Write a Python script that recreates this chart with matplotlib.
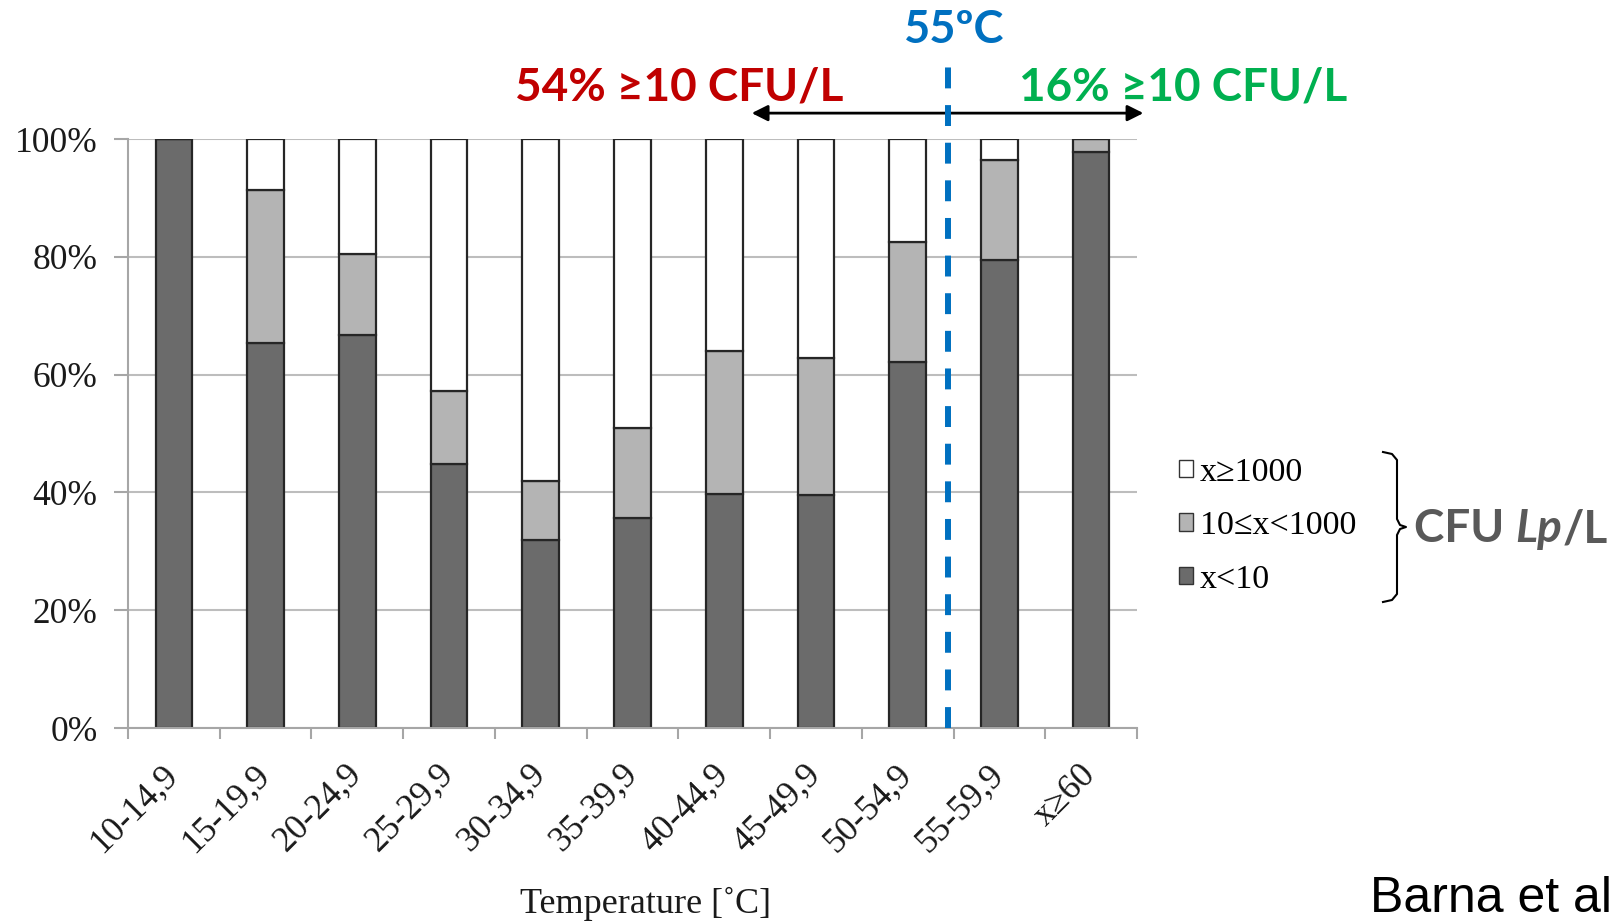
"""
Legionella (Lp) Anteil nach Wassertemperatur - gestapeltes Balkendiagramm
"""

import matplotlib
matplotlib.use("Agg")
import matplotlib.pyplot as plt
from matplotlib.patches import Patch
import numpy as np

# Daten (Prozent je Temperaturklasse)
categories = ['10-14,9', '15-19,9', '20-24,9', '25-29,9', '30-34,9', '35-39,9',
              '40-44,9', '45-49,9', '50-54,9', '55-59,9', 'x≥60']
low_share = [100, 65.3, 66.7, 44.8, 32.0, 35.7, 39.8, 39.5, 62.2, 79.5, 97.8]      # x<10
mid_share = [0, 26.0, 13.7, 12.5, 10.0, 15.2, 24.2, 23.4, 20.3, 16.9, 2.2]        # 10<=x<1000
high_share = [0, 8.7, 19.6, 42.7, 58.0, 49.1, 36.0, 37.1, 17.5, 3.6, 0]           # x>=1000
legend_labels = ['x≥1000', '10≤x<1000', 'x<10']

DARK = '#6b6b6b'
MID = '#b4b4b4'
EDGE = '#262626'
SERIF = 'Liberation Serif'
BOLD = ['Lato', 'DejaVu Sans']

fig = plt.figure(figsize=(16.18, 9.22), dpi=100)
ax = fig.add_axes([0.0791, 0.2104, 0.6236, 0.6388])

x = np.arange(len(categories))
low = np.array(low_share)
mid = np.array(mid_share)
high = np.array(high_share)

ax.bar(x, low, width=0.40, color=DARK, edgecolor=EDGE, linewidth=1.6, zorder=2)
ax.bar(x, mid, bottom=low, width=0.40, color=MID, edgecolor=EDGE, linewidth=1.6, zorder=2)
ax.bar(x, high, bottom=low + mid, width=0.40, color='white', edgecolor=EDGE, linewidth=1.6, zorder=2)

# Achsen
ax.set_xlim(-0.5, len(categories) - 0.5)
ax.set_ylim(0, 100)
ax.set_yticks(range(0, 101, 20))
ax.set_yticklabels([f"{v}%" for v in range(0, 101, 20)], fontfamily=SERIF, fontsize=25.5, color='#1a1a1a')
ax.yaxis.grid(True, color='#bdbdbd', linewidth=1.5)
ax.set_axisbelow(True)
ax.tick_params(axis='y', length=10, width=1.5, color='#a6a6a6', pad=12)

ax.set_xticks(x)
ax.set_xticklabels(categories, fontfamily=SERIF, fontsize=25.5, color='#1a1a1a',
                   rotation=45, ha='right', va='center', rotation_mode='anchor')
ax.tick_params(axis='x', which='major', length=0, pad=30)
ax.set_xticks(np.arange(-0.5, len(categories)), minor=True)
ax.tick_params(axis='x', which='minor', length=8, width=1.5, color='#a6a6a6')

for s in ['top', 'right']:
    ax.spines[s].set_visible(False)
for s in ['left', 'bottom']:
    ax.spines[s].set_color('#a6a6a6')
    ax.spines[s].set_linewidth(1.5)

fig.text(645 / 1618, 1 - 904 / 922, 'Temperature [˚C]', fontfamily=SERIF, fontsize=26,
         color='#1a1a1a', ha='center', va='center')

# 55 Grad Grenze
ax.plot([8.44, 8.44], [0, 113.8], color='#0070C0', linewidth=4.3,
        linestyle=(0, (3.5, 2.8)), clip_on=False, zorder=5)
ax.text(8.51, 116.3, '55ºC', color='#0070C0', fontfamily=BOLD, fontweight='bold',
        fontsize=32.5, ha='center', va='baseline', clip_on=False)

# Pfeile
arrow_props = dict(arrowstyle='-|>', color='black', lw=2, mutation_scale=24, shrinkA=0, shrinkB=0)
ax.annotate('', xy=(6.30, 104.4), xytext=(8.44, 104.4), arrowprops=arrow_props, annotation_clip=False)
ax.annotate('', xy=(10.57, 104.4), xytext=(8.44, 104.4), arrowprops=arrow_props, annotation_clip=False)

ax.text(5.51, 106.6, '54% ≥10 CFU/L', color='#C00000', fontfamily=BOLD, fontweight='bold',
        fontsize=33, ha='center', va='baseline', clip_on=False)
ax.text(11.0, 106.6, '16% ≥10 CFU/L', color='#00B050', fontfamily=BOLD, fontweight='bold',
        fontsize=33, ha='center', va='baseline', clip_on=False)

# Legende
handles = [Patch(facecolor='white', edgecolor='#333333', linewidth=1),
           Patch(facecolor=MID, edgecolor='#333333', linewidth=1),
           Patch(facecolor=DARK, edgecolor='#333333', linewidth=1)]
fig.legend(handles, legend_labels, loc='upper left', bbox_to_anchor=(1179 / 1618, 1 - 457 / 922),
           bbox_transform=fig.transFigure, frameon=False, prop={'family': SERIF, 'size': 24.5},
           handlelength=0.42, handleheight=0.42, handletextpad=0.2, labelspacing=0.68,
           borderpad=0, borderaxespad=0)

# geschweifte Klammer (Pixelkoordinaten -> Figure)
bx = [1383, 1392, 1397, 1397, 1400, 1406, 1400, 1397, 1397, 1392, 1383]
by = [452, 454, 460, 519, 525, 527, 529, 535, 594, 600, 602]
fig.add_artist(plt.Line2D(np.array(bx) / 1618, 1 - np.array(by) / 922, color='black', linewidth=1.5))

# "CFU Lp/L" in drei Teilen, wegen kursivem Lp
fig.canvas.draw()
renderer = fig.canvas.get_renderer()
xpos = 1414 / 1618
for part, style in [('CFU ', 'normal'), ('Lp', 'italic'), ('/L', 'normal')]:
    t = fig.text(xpos, 1 - 529 / 922, part, fontfamily=BOLD, fontweight='bold', fontstyle=style,
                 fontsize=33, color='#595959', ha='left', va='center')
    bb = t.get_window_extent(renderer)
    xpos = bb.x1 / fig.bbox.width

fig.text(1370 / 1618, 1 - 912 / 922, 'Barna et al', fontfamily='Liberation Sans', fontsize=36,
         color='black', ha='left', va='baseline')

plt.savefig('out.png', dpi=100)
